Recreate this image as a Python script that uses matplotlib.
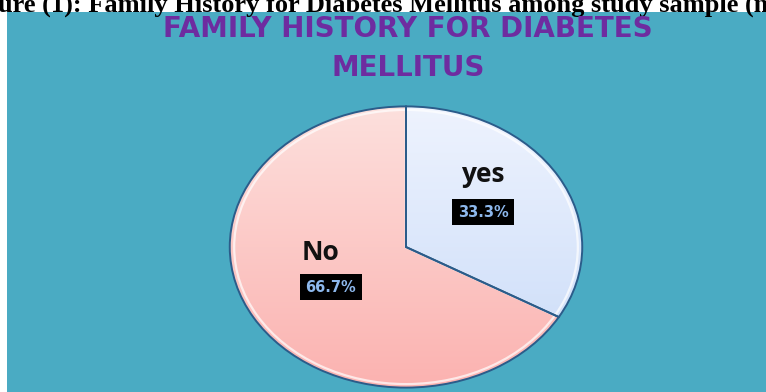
import matplotlib.pyplot as plt
import matplotlib.patches as mpatches
import matplotlib.colors as mcolors
import numpy as np

# data
labels = ["yes", "No"]
values = [33.3, 66.7]
pct_text = ["33.3%", "66.7%"]
slice_colors = ["#DCE7FB", "#FCC6C3"]

W, H = 766, 392
fig = plt.figure(figsize=(W / 100, H / 100), dpi=100)
fig.patch.set_facecolor("white")

def fx(px):
    return px / W

def fy(py):
    return 1 - py / H

# teal panel
panel = mpatches.Rectangle((fx(7), 0), 1 - fx(7), fy(12),
                           transform=fig.transFigure, facecolor="#4AABC3",
                           edgecolor="none", zorder=-5)
fig.patches.append(panel)

# caption clipped at the top
fig.text(0.5, fy(12), "ure (1): Family History for Diabetes Mellitus among study sample (n",
         ha="center", va="baseline", fontsize=19, fontweight="bold",
         family="Liberation Serif", color="black")

# chart title
fig.text(fx(408), fy(37), "FAMILY HISTORY FOR DIABETES", ha="center", va="baseline",
         fontsize=20, fontweight="bold", family="DejaVu Sans", color="#6E2CA0")
fig.text(fx(408), fy(76), "MELLITUS", ha="center", va="baseline",
         fontsize=20, fontweight="bold", family="DejaVu Sans", color="#6E2CA0")

ax = fig.add_axes([fx(228), fy(389), fx(356), 284 / H], zorder=2)
wedges, _ = ax.pie(values, colors=slice_colors, startangle=90, counterclock=False,
                   wedgeprops=dict(edgecolor="#2B5C8A", linewidth=1.4))

# soft vertical gradient inside each slice
grad = np.linspace(0, 1, 256).reshape(-1, 1)
tops = ["#EEF3FE", "#FDE0DD"]
bottoms = ["#C9DBF8", "#FBB2B0"]
for w, c1, c2 in zip(wedges, tops, bottoms):
    r1 = np.array(mcolors.to_rgb(c1))
    r2 = np.array(mcolors.to_rgb(c2))
    img = r1 + (r2 - r1) * grad[:, :, None]
    img = np.repeat(img, 2, axis=1)
    im = ax.imshow(img, extent=(-1, 1, -1, 1), aspect="auto", zorder=1.5, origin="upper")
    im.set_clip_path(w)
    w.set_zorder(2)
    w.set_facecolor("none")

# faint inner highlight along the slice edges
inner, _ = ax.pie(values, startangle=90, counterclock=False, radius=0.975,
                  wedgeprops=dict(facecolor="none", edgecolor="white", linewidth=1.6, alpha=0.7))
for w in inner:
    w.set_zorder(1.8)

ax.set_aspect("auto")
ax.set_xlim(-1.01, 1.01)
ax.set_ylim(-1.01, 1.01)
ax.axis("off")

# slice labels
fig.text(fx(483), fy(175), labels[0], ha="center", va="center",
         fontsize=19, family="Open Sans", fontweight="bold", color="#111111", zorder=5)
fig.text(fx(483), fy(212), pct_text[0], ha="center", va="center",
         fontsize=10.5, family="DejaVu Sans", fontweight="bold", color="#8DB8EC", zorder=5,
         bbox=dict(boxstyle="square,pad=0.38", facecolor="black", edgecolor="none"))
fig.text(fx(321), fy(253), labels[1], ha="center", va="center",
         fontsize=19, family="Open Sans", fontweight="bold", color="#111111", zorder=5)
fig.text(fx(331), fy(287), pct_text[1], ha="center", va="center",
         fontsize=10.5, family="DejaVu Sans", fontweight="bold", color="#8DB8EC", zorder=5,
         bbox=dict(boxstyle="square,pad=0.38", facecolor="black", edgecolor="none"))

fig.savefig("out.png", dpi=100)
